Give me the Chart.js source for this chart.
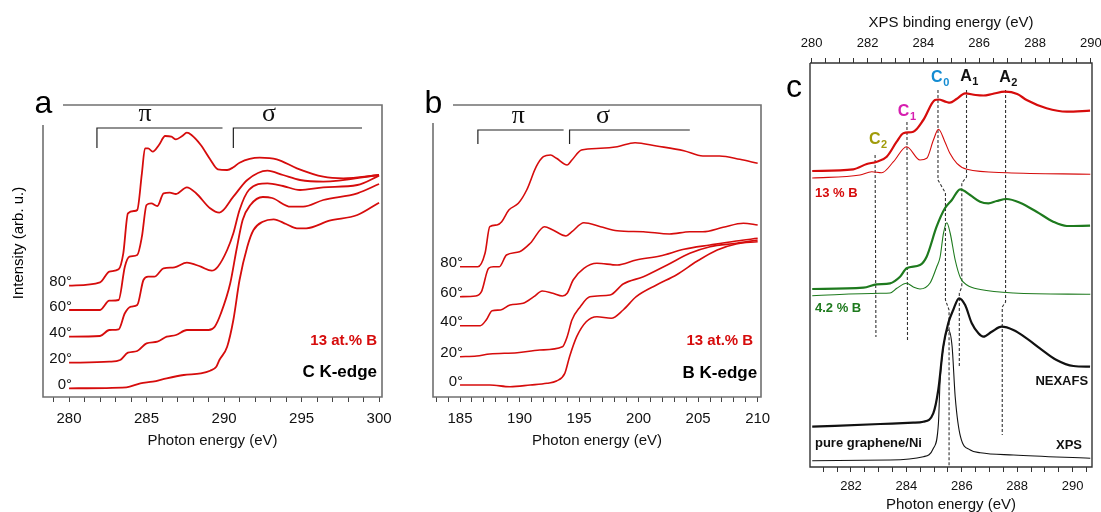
<!DOCTYPE html>
<html>
<head>
<meta charset="utf-8">
<script src="https://cdn.jsdelivr.net/npm/chart.js@4.4.1/dist/chart.umd.min.js"></script>
<style>
  html, body { margin: 0; padding: 0; background: #fff; overflow: hidden; }
  body { width: 1101px; height: 512px; position: relative; }
  canvas { position: absolute; top: 0; }
  #chartA { left: 0; }
  #chartB { left: 392px; }
  #chartC { left: 770px; }
</style>
</head>
<body>
<canvas id="chartA" width="392" height="512"></canvas>
<canvas id="chartB" width="378" height="512"></canvas>
<canvas id="chartC" width="331" height="520"></canvas>
<script>
// angulos de incidencia (mesma ordem das series abaixo)
const angles = ['0°', '20°', '40°', '60°', '80°'];

// painel a: C K-edge, [energia do foton (eV), intensidade (u.a.)]
const ck0 = [[280,8.7],[283.7,9.7],[284.6,13.7],[285.4,15.3],[286.3,18.7],[287.4,22],[288.5,23.7],[289.1,26.3],[289.5,30.3],[289.7,37],[290.2,50.3],[290.6,77],[291.0,117],[291.5,150.3],[291.9,167],[292.5,175.3],[293.2,177.7],[294.0,173],[294.7,168.7],[295.3,168.7],[296.8,176.3],[298.6,182],[300,194.3]];
const ck20 = [[280,34.3],[282.6,35.3],[283.3,37],[283.8,44.3],[284.4,46],[285.0,53.7],[285.7,55.3],[286.3,60.3],[286.9,62],[287.6,67],[289.0,67],[289.4,70.3],[289.8,83.7],[290.4,113.7],[290.8,147],[291.2,177],[291.7,192],[292.5,200],[293.1,199],[294.3,190.3],[295.1,190.3],[296.4,197],[298.6,203.7],[300,213]];
const ck40 = [[280,60.3],[282,61],[282.6,67],[283.2,67.7],[283.6,83.7],[284.0,90.3],[284.4,92],[284.8,117],[285.1,120.3],[285.5,120.3],[286.1,128.7],[286.8,129.7],[287.6,134.3],[288.5,130.3],[289.2,126.3],[289.6,130.3],[290.2,147],[290.6,163.7],[291.0,187],[291.6,207],[292.8,213.7],[293.8,211],[294.9,207],[296.4,209.7],[298.6,212],[300,221.3]];
const ck60 = [[280,87],[282,87],[282.6,96.3],[283.2,97],[283.6,130.3],[283.9,140.3],[284.4,142],[284.7,160.3],[285.0,192],[285.3,193.7],[285.7,191],[286.1,203.7],[286.5,204.3],[286.9,203],[287.6,209.7],[288.2,203.7],[289.1,188.7],[289.7,184.3],[290.6,200.3],[291.5,217],[292.8,226.3],[293.8,222],[294.9,217],[296.4,215.3],[300,222]];
const ck80 = [[280,111.3],[282,114.7],[282.6,125.3],[283.2,127.7],[283.5,143.7],[283.8,183.7],[284.2,186],[284.4,187],[284.7,223.7],[284.9,248.7],[285.1,248.7],[285.4,245.3],[285.8,252],[286.2,261],[286.6,260.3],[286.9,257.7],[287.3,261],[287.6,264.3],[287.9,262],[288.5,252],[289.1,237.7],[289.6,227.7],[290.2,227],[290.6,229.7],[291.0,234.3],[292.3,239.3],[293.4,237.7],[294.7,228.7],[296.4,220.3],[297.7,218.7],[300,222]];

// painel b: B K-edge
const bk0 = [[185,12],[187.5,12],[189.2,10.3],[190.9,12],[192.3,13.7],[193.1,16],[193.8,23.7],[194.2,40.3],[194.8,60.3],[195.6,75.3],[196.5,80.3],[197.7,78.7],[198.7,87],[199.8,100.3],[201.5,112],[203.2,122.3],[204.9,135.7],[206.6,147],[208.2,153],[210,155.3]];
const bk20 = [[185,40.3],[186.4,41],[187.5,43],[189.8,44.3],[191.7,47],[193.6,50.3],[194.0,60.3],[194.4,77],[195.1,90.3],[195.9,100.3],[197.6,102],[198.7,113],[200.4,120.3],[202.4,132],[204.3,143.7],[206.0,150.3],[208.2,153.7],[210,157]];
const bk40 = [[185,71.3],[186.7,71.3],[187.2,77],[187.7,86.3],[188.4,87],[189.2,92],[190.3,93.7],[191.2,100.3],[191.9,106],[192.8,103.7],[193.6,101],[194.0,103.7],[194.5,117],[195.4,128.7],[196.5,133.7],[198.2,132],[199.8,137],[201.8,141],[203.8,147.7],[206.0,152],[208.2,156],[210,158.7]];
const bk60 = [[185,100.3],[186.3,101],[186.8,105.3],[187.4,128.7],[187.8,130.3],[188.3,130.3],[188.9,142],[190.0,145.3],[190.9,153.7],[192.1,170.3],[192.8,167],[193.9,161],[194.4,165.3],[195.4,174.3],[196.8,170.3],[198.2,166.3],[200.4,165.3],[202.6,163],[204.3,165.3],[205.4,165.3],[207.1,169.7],[208.8,173.7],[210,172]];
const bk80 = [[185,130.3],[186.5,130.3],[187.1,143.7],[187.5,170.3],[188.1,172],[188.5,175.3],[189.1,187],[189.9,193.7],[190.6,207],[191.4,230.3],[192.0,240.3],[192.6,242],[193.1,238.7],[194.0,232],[194.4,237],[195.2,247],[196.8,248.7],[198.2,250.3],[199.7,254.3],[201.5,251],[203.8,246.3],[205.4,241],[206.8,241],[208.5,237.7],[210,233.7]];

// painel c: NEXAFS em energia do foton, XPS em energia de ligacao
const nexafs13 = [[280.6,296],[282.08,297.7],[282.57,303],[282.93,305.3],[283.29,310.3],[283.65,325.3],[283.89,333.7],[284.25,335.3],[284.61,347],[285.03,367],[285.15,367.5],[285.45,365],[285.57,364.3],[285.81,368],[286.12,373.7],[286.5,372],[286.78,371.5],[287.1,373],[287.56,375.3],[288.0,373],[288.34,367],[289.06,358.7],[289.79,355.3],[290.63,356.3]];
const xps13 = [[280.02,289],[281.73,292],[282.15,295.3],[282.51,294.3],[282.93,305.3],[283.40,320.3],[283.88,307],[284.12,308.7],[284.36,327],[284.54,337.7],[284.77,325.3],[284.95,313.7],[285.20,303.7],[285.56,297.7],[286.99,294.3],[289.98,292.7]];
const nexafs42 = [[280.6,178],[282.45,179.3],[282.93,182.7],[283.41,183.7],[283.77,190.3],[284.01,198.7],[284.49,202],[284.73,210.3],[285.09,240.3],[285.39,258.7],[285.64,267],[285.94,277.7],[286.30,272],[286.66,265.3],[286.96,263.7],[287.26,266],[287.62,268],[288.1,264.3],[288.7,255.3],[289.3,245.3],[289.79,241],[290.63,241.3]];
const xps42 = [[280.02,171.3],[282.45,173.7],[282.81,174],[283.05,178.7],[283.40,183.7],[283.64,180],[283.88,178],[284.24,184],[284.48,200.3],[284.60,210],[284.72,233.7],[284.84,244.3],[284.96,234],[285.14,207],[285.33,189],[285.56,182],[286.04,177.5],[287.23,174],[289.98,172.7]];
const nexafsPure = [[280.6,40.3],[283.05,43],[284.25,44.3],[284.61,45.3],[284.97,53.7],[285.15,77],[285.33,120.3],[285.51,143.7],[285.69,157],[285.90,168.7],[286.12,162],[286.36,143.7],[286.60,133.7],[286.78,130.3],[287.08,135.3],[287.44,140.3],[287.86,137],[288.34,128.7],[288.82,118.7],[289.42,107],[290.03,101],[290.63,100.3]];
const xpsPure = [[280.02,6.3],[282.81,7],[284.00,10.3],[284.36,18.7],[284.54,43.7],[284.60,87],[284.72,120.3],[284.90,137],[285.03,120.3],[285.14,70.3],[285.33,30.3],[285.68,17],[286.04,14.3],[287.23,12],[289.98,8.7]];

// linhas guia tracejadas (C2, C1, C0, A1, A2)
const guideC2 = [[282.87,312],[282.9,130]];
const guideC1 = [[284.02,345],[284.04,126]];
const guideC0 = [[285.14,377],[285.14,287],[285.41,274],[285.41,167],[285.54,157],[285.54,0]];
const guideA1 = [[286.17,377],[286.17,290],[286.0,284],[286.0,180],[285.91,174],[285.91,100]];
const guideA2 = [[287.58,377],[287.58,165],[287.46,160],[287.46,32]];

// colchetes pi / sigma
const bracketPiC = [[281.8,249],[281.8,269],[289.9,269]];
const bracketSigmaC = [[290.6,249],[290.6,269],[298.9,269]];
const bracketPiB = [[186.5,253],[186.5,267],[193.7,267]];
const bracketSigmaB = [[194.2,253],[194.2,267],[204.3,267]];

// rotulos dos eixos
const ckTicks = [280, 285, 290, 295, 300];
const bkTicks = [185, 190, 195, 200, 205, 210];
const photonTicks = [282, 284, 286, 288, 290];
const bindingTicks = [280, 282, 284, 286, 288, 290];

document.addEventListener('DOMContentLoaded', () => {

    const SANS = '"Liberation Sans", Arial, sans-serif';
    const SERIF = '"Liberation Serif", "Times New Roman", serif';
    const RED = 'rgb(214, 12, 12)';
    const GREEN = 'rgb(30, 122, 30)';

    Chart.defaults.font.family = SANS;
    Chart.defaults.color = '#111';

    const pts = arr => arr.map(([x, y]) => ({ x, y }));

    const line = (arr, color, width, extra = {}) => ({
        data: pts(arr),
        borderColor: color,
        borderWidth: width,
        pointRadius: 0,
        fill: false,
        cubicInterpolationMode: 'monotone',
        ...extra
    });

    const straight = (arr, dashed) => ({
        data: pts(arr),
        borderColor: dashed ? '#333' : '#222',
        borderWidth: dashed ? 1.1 : 1.2,
        borderDash: dashed ? [3, 2] : [],
        pointRadius: 0,
        tension: 0,
        fill: false
    });

    const xAxis = (min, max, step, labels, o) => ({
        type: 'linear',
        axis: 'x',
        position: o.position || 'bottom',
        min, max,
        grid: { display: true, drawOnChartArea: false, drawTicks: true, tickLength: 5, color: o.tickColor, lineWidth: 1 },
        border: { display: false },
        ticks: {
            stepSize: step, autoSkip: false, maxRotation: 0, minRotation: 0, includeBounds: false,
            padding: o.pad, color: '#111', font: { size: o.size },
            callback: v => labels.some(l => Math.abs(l - v) < 1e-6) ? String(Math.round(v)) : ''
        },
        title: { display: true, text: o.title, font: { size: 15 }, color: '#111', padding: { top: 4, bottom: 4 } },
        afterFit: s => { s.height = o.height; s.paddingLeft = 0; s.paddingRight = 0; }
    });

    /**
     * Moldura, letra do painel e titulo do eixo y
     */
    const framePlugin = {
        id: 'frame',
        afterDraw(chart, args, o) {
            const { ctx, chartArea: { left, right, top, bottom } } = chart;
            ctx.save();
            ctx.strokeStyle = o.color;
            ctx.lineWidth = o.width;
            ctx.beginPath();
            ctx.moveTo(left + o.gapTop, top);
            ctx.lineTo(right, top);
            ctx.lineTo(right, bottom);
            ctx.lineTo(left, bottom);
            ctx.lineTo(left, top + o.gapLeft);
            ctx.stroke();
            ctx.fillStyle = '#000';
            ctx.font = '32px ' + SANS;
            ctx.textAlign = 'left';
            ctx.textBaseline = 'alphabetic';
            ctx.fillText(o.letter, left + o.letterDx, top + o.letterDy);
            if (o.yTitle) {
                ctx.translate(left - 24, top + 138);
                ctx.rotate(-Math.PI / 2);
                ctx.font = '15px ' + SANS;
                ctx.textAlign = 'center';
                ctx.textBaseline = 'middle';
                ctx.fillText(o.yTitle, 0, 0);
            }
            ctx.restore();
        }
    };

    /**
     * Textos posicionados em coordenadas de dados
     */
    const notesPlugin = {
        id: 'notes',
        afterDatasetsDraw(chart, args, o) {
            const { ctx } = chart;
            const yScale = chart.scales.y;
            o.items.forEach(n => {
                const xScale = chart.scales[n.axis || 'x'];
                const px = xScale.getPixelForValue(n.x) + (n.dx || 0);
                const py = yScale.getPixelForValue(n.y) + (n.dy || 0);
                ctx.save();
                ctx.fillStyle = n.color || '#111';
                ctx.textBaseline = 'middle';
                ctx.font = n.font;
                if (n.sub) {
                    const w1 = ctx.measureText(n.text).width;
                    ctx.font = n.subFont;
                    const w2 = ctx.measureText(n.sub).width;
                    const x0 = px - (w1 + w2) / 2;
                    ctx.textAlign = 'left';
                    ctx.fillText(n.sub, x0 + w1 + 0.5, py + 5);
                    ctx.font = n.font;
                    ctx.fillText(n.text, x0, py);
                } else {
                    ctx.textAlign = n.align || 'left';
                    ctx.fillText(n.text, px, py);
                }
                ctx.restore();
            });
        }
    };

    const angleNotes = (series, x0) => angles.map((t, i) => ({
        text: t, x: x0, y: series[i][0][1], dx: 3, dy: -3.5, align: 'right', font: '15px ' + SANS
    }));

    /**
     * Painel a: C K-edge
     */
    const createCkChart = () => {
        const series = [ck0, ck20, ck40, ck60, ck80];
        new Chart(document.getElementById('chartA'), {
            type: 'line',
            data: {
                datasets: [
                    ...series.map(s => line(s, RED, 1.8)),
                    straight(bracketPiC), straight(bracketSigmaC)
                ]
            },
            options: {
                responsive: false, animation: false,
                layout: { padding: { left: 43, right: 10, top: 105, bottom: 58 } },
                scales: {
                    x: xAxis(278.32, 300.19, 1, ckTicks, { tickColor: '#444', pad: 8, size: 15, height: 57, title: 'Photon energy (eV)' }),
                    y: { display: false, min: 0, max: 292 }
                },
                plugins: {
                    legend: { display: false }, tooltip: { enabled: false },
                    frame: { color: '#707070', width: 1.6, gapTop: 20, gapLeft: 20, letter: 'a', letterDx: -8.5, letterDy: 8, yTitle: 'Intensity (arb. u.)' },
                    notes: {
                        items: [
                            ...angleNotes(series, 280),
                            { text: 'π', x: 284.9, y: 283, align: 'center', font: '26px ' + SERIF },
                            { text: 'σ', x: 292.9, y: 283, align: 'center', font: '26px ' + SERIF },
                            { text: '13 at.% B', x: 299.87, y: 56, align: 'right', color: RED, font: 'bold 15px ' + SANS },
                            { text: 'C K-edge', x: 299.87, y: 25, align: 'right', color: '#000', font: 'bold 17px ' + SANS }
                        ]
                    }
                }
            },
            plugins: [framePlugin, notesPlugin]
        });
    };

    /**
     * Painel b: B K-edge
     */
    const createBkChart = () => {
        const series = [bk0, bk20, bk40, bk60, bk80];
        new Chart(document.getElementById('chartB'), {
            type: 'line',
            data: {
                datasets: [
                    ...series.map(s => line(s, RED, 1.6)),
                    straight(bracketPiB), straight(bracketSigmaB)
                ]
            },
            options: {
                responsive: false, animation: false,
                layout: { padding: { left: 41, right: 9, top: 105, bottom: 58 } },
                scales: {
                    x: xAxis(182.73, 210.28, 1, bkTicks, { tickColor: '#444', pad: 8, size: 15, height: 57, title: 'Photon energy (eV)' }),
                    y: { display: false, min: 0, max: 292 }
                },
                plugins: {
                    legend: { display: false }, tooltip: { enabled: false },
                    frame: { color: '#707070', width: 1.6, gapTop: 20, gapLeft: 18, letter: 'b', letterDx: -8.5, letterDy: 8 },
                    notes: {
                        items: [
                            ...angleNotes(series, 185),
                            { text: 'π', x: 189.9, y: 281, align: 'center', font: '26px ' + SERIF },
                            { text: 'σ', x: 197.0, y: 281, align: 'center', font: '26px ' + SERIF },
                            { text: '13 at.% B', x: 209.62, y: 56, align: 'right', color: RED, font: 'bold 15px ' + SANS },
                            { text: 'B K-edge', x: 209.96, y: 24, align: 'right', color: '#000', font: 'bold 17px ' + SANS }
                        ]
                    }
                }
            },
            plugins: [framePlugin, notesPlugin]
        });
    };

    /**
     * Painel c: NEXAFS x XPS
     */
    const createCompareChart = () => {
        const bold = 'bold 13px ' + SANS;
        const peak = (text, sub, x, y, color) => ({
            text, sub, x, y, color, font: 'bold 16px ' + SANS, subFont: 'bold 11px ' + SANS
        });
        new Chart(document.getElementById('chartC'), {
            type: 'line',
            data: {
                datasets: [
                    line(nexafs13, RED, 2.2),
                    line(xps13, RED, 1.1, { xAxisID: 'x2' }),
                    line(nexafs42, GREEN, 2.2),
                    line(xps42, GREEN, 1.1, { xAxisID: 'x2' }),
                    line(nexafsPure, '#111', 2.2),
                    line(xpsPure, '#111', 1.1, { xAxisID: 'x2' }),
                    ...[guideC2, guideC1, guideC0, guideA1, guideA2].map(g => straight(g, true))
                ]
            },
            options: {
                responsive: false, animation: false,
                layout: { padding: { left: 40, right: 9, top: 10, bottom: 2 } },
                scales: {
                    x: xAxis(280.52, 290.70, 0.5, photonTicks, { tickColor: '#333', pad: 7, size: 13, height: 51, title: 'Photon energy (eV)' }),
                    x2: xAxis(279.94, 290.04, 0.5, bindingTicks, { position: 'top', tickColor: '#333', pad: 7, size: 13, height: 53, title: 'XPS binding energy (eV)' }),
                    y: { display: false, min: 0, max: 404 }
                },
                plugins: {
                    legend: { display: false }, tooltip: { enabled: false },
                    frame: { color: '#333', width: 1.4, gapTop: 0, gapLeft: 0, letter: 'c', letterDx: -24, letterDy: 34 },
                    notes: {
                        items: [
                            peak('C', '2', 282.97, 327, 'rgb(160, 155, 10)'),
                            peak('C', '1', 284.01, 355, 'rgb(214, 30, 175)'),
                            peak('C', '0', 285.21, 389, 'rgb(20, 140, 210)'),
                            peak('A', '1', 286.26, 390, '#111'),
                            peak('A', '2', 287.67, 389, '#111'),
                            { text: '13 % B', x: 280.70, y: 274, color: RED, font: bold },
                            { text: '4.2 % B', x: 280.70, y: 159, color: GREEN, font: bold },
                            { text: 'NEXAFS', x: 290.56, y: 86, align: 'right', color: '#111', font: bold },
                            { text: 'pure graphene/Ni', x: 280.70, y: 24, color: '#111', font: bold },
                            { text: 'XPS', x: 290.34, y: 22, align: 'right', color: '#111', font: bold }
                        ]
                    }
                }
            },
            plugins: [framePlugin, notesPlugin]
        });
    };

    createCkChart();
    createBkChart();
    createCompareChart();
});
</script>
</body>
</html>
